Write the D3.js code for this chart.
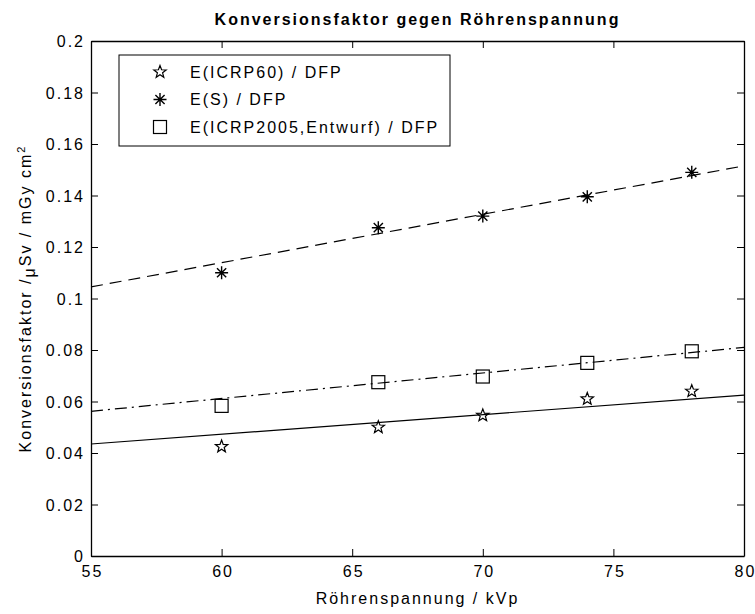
<!DOCTYPE html>
<html><head><meta charset="utf-8">
<script src="https://cdn.jsdelivr.net/npm/d3@7/dist/d3.min.js"></script>
<style>
body{margin:0;background:#fff;}
text{font-family:"Liberation Sans",Arial,sans-serif;fill:#000;}
</style></head>
<body><svg id="c" width="755" height="614"></svg>
<script>
// ---- data ----
const kVp = [60, 66, 70, 74, 78];
const icrp60 = [0.0425, 0.0500, 0.0546, 0.0610, 0.0640];
const eS = [0.1100, 0.1275, 0.1320, 0.1395, 0.1490];
const icrp2005 = [0.0583, 0.0675, 0.0697, 0.0750, 0.0795];
const fitX = [55, 80];
const fitIcrp60 = [0.0435, 0.0625];
const fitES = [0.1045, 0.1515];
const fitIcrp2005 = [0.0562, 0.0810];
const xTicks = [55, 60, 65, 70, 75, 80];
const yTicks = [0, 0.02, 0.04, 0.06, 0.08, 0.1, 0.12, 0.14, 0.16, 0.18, 0.2];
const yTickLabels = ["0", "0.02", "0.04", "0.06", "0.08", "0.1", "0.12", "0.14", "0.16", "0.18", "0.2"];
const legendLabels = ["E(ICRP60) / DFP", "E(S) / DFP", "E(ICRP2005,Entwurf) / DFP"];
const titleText = "Konversionsfaktor gegen Röhrenspannung";
const xLabel = "Röhrenspannung / kVp";

// ---- layout ----
const L = 91, R = 744, T = 41, B = 556;
const FS = 16, LS = "2px";
const svg = d3.select("#c");
const x = d3.scaleLinear().domain([55, 80]).range([L, R]);
const y = d3.scaleLinear().domain([0, 0.2]).range([B, T]);

svg.append("rect").attr("width", 755).attr("height", 614).attr("fill", "#fff");

// axes (MATLAB box with inward ticks on all sides)
const tickLen = 7;
const gB = svg.append("g").attr("transform", `translate(0,${B})`)
  .call(d3.axisBottom(x).tickValues(xTicks).tickSizeInner(-tickLen).tickSizeOuter(0).tickPadding(10).tickFormat(d3.format("d")));
const gT = svg.append("g").attr("transform", `translate(0,${T})`)
  .call(d3.axisTop(x).tickValues(xTicks).tickSizeInner(-tickLen).tickSizeOuter(0).tickFormat(""));
const gL = svg.append("g").attr("transform", `translate(${L},0)`)
  .call(d3.axisLeft(y).tickValues(yTicks).tickSizeInner(-tickLen).tickSizeOuter(0).tickPadding(6).tickFormat((d, i) => yTickLabels[i]));
const gR = svg.append("g").attr("transform", `translate(${R},0)`)
  .call(d3.axisRight(y).tickValues(yTicks).tickSizeInner(-tickLen).tickSizeOuter(0).tickFormat(""));
[gB, gT, gL, gR].forEach(g => {
  g.selectAll("path.domain").attr("stroke", "#000").attr("stroke-width", 1.3);
  g.selectAll("line").attr("stroke", "#000").attr("stroke-width", 1);
  g.selectAll("text").attr("font-size", FS).attr("letter-spacing", LS)
    .attr("font-family", "Liberation Sans, Arial, sans-serif").attr("fill", "#000");
});
gL.selectAll("text").attr("dy", "0.35em");
gB.selectAll("text").attr("dx", 1);

// fit lines
const line = d3.line().x(d => x(d[0])).y(d => y(d[1]));
function fit(vals, dash) {
  svg.append("path").datum(fitX.map((v, i) => [v, vals[i]]))
    .attr("d", line).attr("fill", "none").attr("stroke", "#000").attr("stroke-width", 1.2)
    .attr("stroke-dasharray", dash);
}
fit(fitIcrp60, null);
fit(fitES, "12,7");
fit(fitIcrp2005, "12,5,2,5");

// markers
function starPath(r) {
  const pts = [];
  for (let i = 0; i < 10; i++) {
    const a = -Math.PI / 2 + i * Math.PI / 5;
    const rr = i % 2 === 0 ? r : r * 0.42;
    pts.push([rr * Math.cos(a), rr * Math.sin(a)]);
  }
  return "M" + pts.map(p => p.join(",")).join("L") + "Z";
}
function asteriskPath(r) {
  let p = "";
  for (let i = 0; i < 4; i++) {
    const a = i * Math.PI / 4;
    p += `M${-r * Math.cos(a)},${-r * Math.sin(a)}L${r * Math.cos(a)},${r * Math.sin(a)}`;
  }
  return p;
}
function drawMarker(g, type) {
  if (type === 0) g.append("path").attr("d", starPath(6.5)).attr("fill", "none").attr("stroke", "#000").attr("stroke-width", 1.2);
  else if (type === 1) g.append("path").attr("d", asteriskPath(6.5)).attr("fill", "none").attr("stroke", "#000").attr("stroke-width", 1.4);
  else g.append("rect").attr("x", -6.5).attr("y", -6.5).attr("width", 13).attr("height", 13).attr("fill", "none").attr("stroke", "#000").attr("stroke-width", 1.2);
}
[icrp60, eS, icrp2005].forEach((series, t) => {
  series.forEach((v, i) => {
    const g = svg.append("g").attr("transform", `translate(${x(kVp[i])},${y(v)})`);
    drawMarker(g, t);
  });
});

// legend
const lg = svg.append("g").attr("transform", "translate(119,55)");
lg.append("rect").attr("width", 331).attr("height", 91).attr("fill", "#fff").attr("stroke", "#000").attr("stroke-width", 1);
legendLabels.forEach((lab, i) => {
  const cy = 17 + i * 27.5;
  const g = lg.append("g").attr("transform", `translate(41,${cy})`);
  drawMarker(g, i);
  lg.append("text").attr("x", 71).attr("y", cy).attr("dy", "0.35em")
    .attr("font-size", FS).attr("letter-spacing", LS).text(lab);
});

// title
svg.append("text").attr("x", (L + R) / 2).attr("y", 25).attr("text-anchor", "middle")
  .attr("font-size", FS).attr("letter-spacing", LS).attr("font-weight", "bold").text(titleText);

// x label
svg.append("text").attr("x", (L + R) / 2).attr("y", 604).attr("text-anchor", "middle")
  .attr("font-size", FS).attr("letter-spacing", LS).text(xLabel);

// y label
const yl = svg.append("text").attr("transform", `translate(31,${(T + B) / 2}) rotate(-90)`)
  .attr("text-anchor", "middle").attr("font-size", FS).attr("letter-spacing", LS);
yl.append("tspan").text("Konversionsfaktor /");
yl.append("tspan").attr("dy", 4).text("μ");
yl.append("tspan").attr("dy", -4).text("Sv / mGy cm");
yl.append("tspan").attr("dy", -6).attr("font-size", 11).text("2");
</script></body></html>
